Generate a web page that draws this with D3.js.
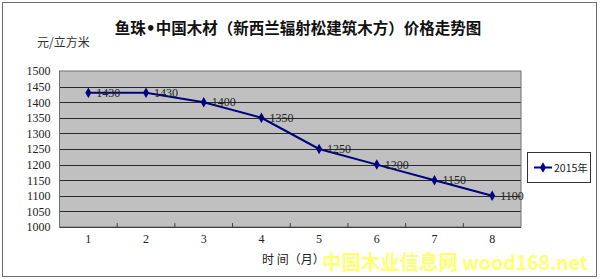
<!DOCTYPE html>
<html>
<head>
<meta charset="utf-8">
<script src="https://cdn.jsdelivr.net/npm/d3@7"></script>
<style>
  body { margin: 0; background: #fff; }
  svg { display: block; }
</style>
</head>
<body>
<div id="chart"></div>
<script>
// datos del grafico
var months = ["1", "2", "3", "4", "5", "6", "7", "8"];
var prices = [1430, 1430, 1400, 1350, 1250, 1200, 1150, 1100];
var yTicks = [1000, 1050, 1100, 1150, 1200, 1250, 1300, 1350, 1400, 1450, 1500];
var seriesName = "2015年";

var W = 600, H = 279;
var plot = {left: 59.5, top: 71, right: 521, bottom: 227};

var svg = d3.select('#chart').append('svg')
  .attr('width', W)
  .attr('height', H);

// marco exterior
svg.append('rect')
  .attr('x', 2.5).attr('y', 2.5)
  .attr('width', 594).attr('height', 274)
  .style('fill', '#fff')
  .style('stroke', '#6e6e6e')
  .style('stroke-width', 1);

var x = d3.scaleBand()
  .domain(months)
  .range([plot.left, plot.right]);

var y = d3.scaleLinear()
  .domain([1000, 1500])
  .range([plot.bottom, plot.top]);

// area del grafico
svg.append('rect')
  .attr('x', plot.left).attr('y', plot.top)
  .attr('width', plot.right - plot.left)
  .attr('height', plot.bottom - plot.top)
  .style('fill', '#c0c0c0');

// lineas de cuadricula
svg.append('g')
  .selectAll('line')
  .data(yTicks.slice(1, -1))
  .enter()
  .append('line')
  .attr('x1', plot.left).attr('x2', plot.right)
  .attr('y1', function(d) { return Math.round(y(d)) + 0.5; })
  .attr('y2', function(d) { return Math.round(y(d)) + 0.5; })
  .style('stroke', '#2a2a2a')
  .style('stroke-width', 1);

svg.append('rect')
  .attr('x', plot.left).attr('y', plot.top)
  .attr('width', plot.right - plot.left)
  .attr('height', plot.bottom - plot.top)
  .style('fill', 'none')
  .style('stroke', '#707070')
  .style('stroke-width', 1);

// eje Y
var yAxis = d3.axisLeft(y)
  .tickValues(yTicks)
  .tickFormat(d3.format('d'))
  .tickSize(0)
  .tickPadding(9);

var gy = svg.append('g')
  .attr('transform', 'translate(' + plot.left + ',0)')
  .call(yAxis);
gy.select('.domain').remove();
gy.selectAll('text')
  .style('font-family', '"Liberation Serif", "DejaVu Serif", serif')
  .style('font-size', '12px')
  .style('fill', '#222');

// eje X (marcas hacia dentro en los limites de categoria)
var bounds = months.map(function(d) { return x(d); }).slice(1);
svg.append('g')
  .selectAll('line')
  .data(bounds)
  .enter()
  .append('line')
  .attr('x1', function(d) { return d; })
  .attr('x2', function(d) { return d; })
  .attr('y1', plot.bottom)
  .attr('y2', plot.bottom - 4)
  .style('stroke', '#404040');

svg.append('line')
  .attr('x1', plot.left).attr('x2', plot.right)
  .attr('y1', plot.bottom + 0.5).attr('y2', plot.bottom + 0.5)
  .style('stroke', '#404040');

svg.append('g')
  .selectAll('text')
  .data(months)
  .enter()
  .append('text')
  .attr('x', function(d) { return x(d) + x.bandwidth() / 2; })
  .attr('y', 243)
  .attr('text-anchor', 'middle')
  .style('font-family', '"Liberation Serif", "DejaVu Serif", serif')
  .style('font-size', '12px')
  .style('fill', '#222')
  .text(function(d) { return d; });

// serie
var cx = function(d, i) { return x(months[i]) + x.bandwidth() / 2; };

var line = d3.line()
  .x(function(d, i) { return cx(d, i); })
  .y(function(d) { return y(d); });

svg.append('path')
  .datum(prices)
  .attr('d', line)
  .style('fill', 'none')
  .style('stroke', '#000080')
  .style('stroke-width', 2);

var diamond = d3.symbol().type(d3.symbolDiamond).size(32);

svg.append('g')
  .selectAll('path')
  .data(prices)
  .enter()
  .append('path')
  .attr('d', diamond)
  .attr('transform', function(d, i) { return 'translate(' + cx(d, i) + ',' + y(d) + ')'; })
  .style('fill', '#000080');

svg.append('g')
  .selectAll('text')
  .data(prices)
  .enter()
  .append('text')
  .attr('x', function(d, i) { return cx(d, i) + 8; })
  .attr('y', function(d) { return y(d) + 4; })
  .style('font-family', '"Liberation Serif", "DejaVu Serif", serif')
  .style('font-size', '12px')
  .style('fill', '#222')
  .text(function(d) { return d; });

// titulos
var title = svg.append('text')
  .attr('x', 298).attr('y', 34)
  .attr('text-anchor', 'middle')
  .style('font-family', '"Noto Sans CJK SC", sans-serif')
  .style('font-weight', 'bold')
  .style('font-size', '15.5px')
  .style('fill', '#111');
title.append('tspan').text('鱼珠');
title.append('tspan').style('font-family', '"DejaVu Sans", sans-serif').text('•');
title.append('tspan').text('中国木材（新西兰辐射松建筑木方）价格走势图');

svg.append('text')
  .attr('x', 37).attr('y', 47)
  .style('font-family', '"Noto Sans CJK SC", sans-serif')
  .style('font-size', '12px')
  .style('fill', '#333')
  .text('元/立方米');

svg.append('text')
  .attr('x', 262).attr('y', 264)
  .style('font-family', '"Noto Sans CJK SC", sans-serif')
  .style('font-size', '12px')
  .style('fill', '#222')
  .text('时 间（月）');

// marca de agua
svg.append('text')
  .attr('x', 322).attr('y', 270)
  .attr('textLength', 266)
  .attr('lengthAdjust', 'spacingAndGlyphs')
  .style('font-family', '"Noto Sans CJK SC", sans-serif')
  .style('font-weight', 'bold')
  .style('font-size', '20px')
  .style('fill', '#ffff66')
  .style('opacity', 0.9)
  .text('中国木业信息网 wood168.net');

// leyenda
var legend = svg.append('g').attr('transform', 'translate(527,152)');
legend.append('rect')
  .attr('x', 0.5).attr('y', 0.5)
  .attr('width', 63).attr('height', 30)
  .style('fill', '#fff')
  .style('stroke', '#333');
legend.append('line')
  .attr('x1', 7).attr('x2', 25)
  .attr('y1', 15.5).attr('y2', 15.5)
  .style('stroke', '#000080')
  .style('stroke-width', 2);
legend.append('path')
  .attr('d', diamond)
  .attr('transform', 'translate(16,15.5)')
  .style('fill', '#000080');
legend.append('text')
  .attr('x', 27).attr('y', 19.5)
  .style('font-family', '"Noto Sans CJK SC", sans-serif')
  .style('font-size', '10.5px')
  .style('fill', '#222')
  .text(seriesName);
</script>
</body>
</html>
